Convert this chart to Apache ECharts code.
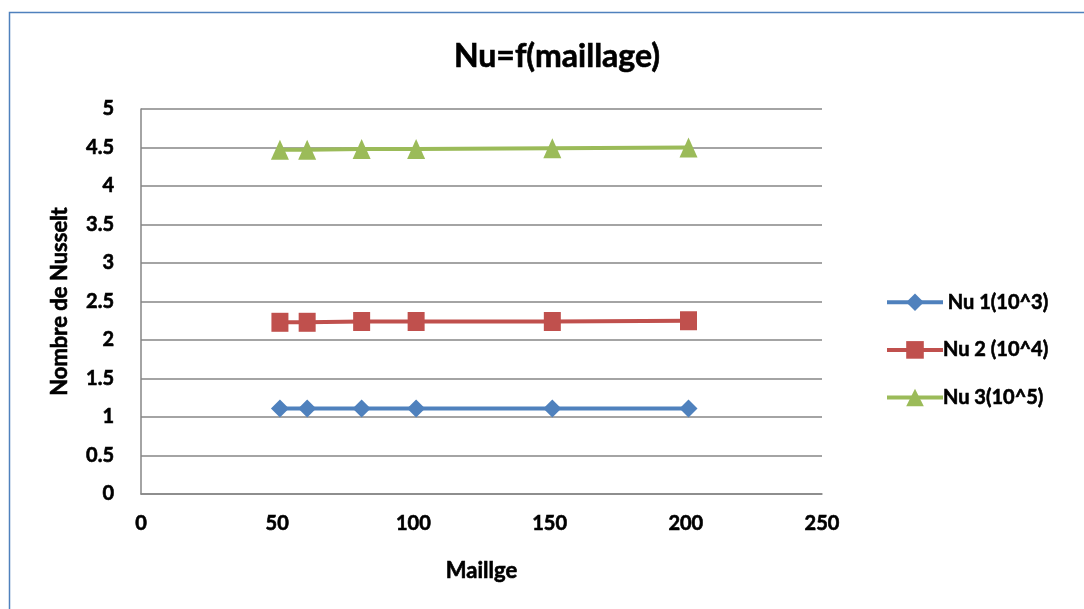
<!DOCTYPE html>
<html><head><meta charset="utf-8">
<script src="https://cdn.jsdelivr.net/npm/echarts@6/dist/echarts.min.js"></script>
<style>html,body{margin:0;padding:0;background:#fff}#c{width:1084px;height:609px}</style>
</head><body><div id="c"></div>
<script>
const maillage = [51, 61, 81, 101, 151, 201];
const nu1 = [1.11, 1.11, 1.11, 1.11, 1.11, 1.11];
const nu2 = [2.23, 2.23, 2.24, 2.24, 2.24, 2.25];
const nu3 = [4.47, 4.47, 4.48, 4.48, 4.49, 4.50];
const seriesNames = [' Nu 1(10^3)', 'Nu 2 (10^4)', 'Nu 3(10^5)'];
const colors = ['#4F81BD', '#C0504D', '#9BBB59'];
const symbols = ['diamond', 'rect', 'triangle'];
const symbolSizes = [[18, 18], [17, 19], [18, 20]];
const data = [nu1, nu2, nu3];
const font = 'Lato, "Open Sans", sans-serif';
const W = 'bold';
const txt = (size) => ({fontFamily: font, fontSize: size, fontWeight: W, color: '#000', textBorderColor: '#000', textBorderWidth: 0.6});

const chart = echarts.init(document.getElementById('c'));
chart.setOption({
  animation: false,
  graphic: [{type: 'rect', left: 7, top: 10, shape: {width: 1200, height: 700}, style: {fill: 'none', stroke: '#4F81BD', lineWidth: 1.5}, silent: true}],
  title: {text: 'Nu=f(maillage)', left: 552, top: 36, textAlign: 'center',
    textStyle: txt(32)},
  grid: {left: 141, right: 262, top: 109, bottom: 115},
  legend: {orient: 'vertical', left: 880, top: 287, itemGap: 27, itemWidth: 56, itemHeight: 22,
    lineStyle: {width: 4},
    textStyle: Object.assign(txt(20), {padding: [0,0,0,-5]}),
    data: seriesNames},
  xAxis: {type: 'value', min: 0, max: 250, interval: 50,
    name: 'Maillge', nameLocation: 'middle', nameGap: 66,
    nameTextStyle: txt(22),
    axisLine: {lineStyle: {color: '#868686', width: 1.5}},
    axisTick: {show: false},
    axisLabel: Object.assign(txt(20), {margin: 20}),
    splitLine: {show: false}},
  yAxis: {type: 'value', min: 0, max: 5, interval: 0.5,
    name: 'Nombre de Nusselt', nameLocation: 'middle', nameGap: 70,
    nameTextStyle: txt(22),
    axisLine: {show: true, lineStyle: {color: '#868686', width: 1.5}},
    axisTick: {show: false},
    axisLabel: Object.assign(txt(20), {margin: 27}),
    splitLine: {lineStyle: {color: '#868686', width: 1.5}}},
  series: data.map((d, i) => ({
    name: seriesNames[i], type: 'line',
    data: maillage.map((x, j) => [x, d[j]]),
    symbol: symbols[i], symbolSize: symbolSizes[i], showSymbol: true,
    itemStyle: {color: colors[i]},
    lineStyle: {color: colors[i], width: 4}
  }))
});
</script></body></html>
